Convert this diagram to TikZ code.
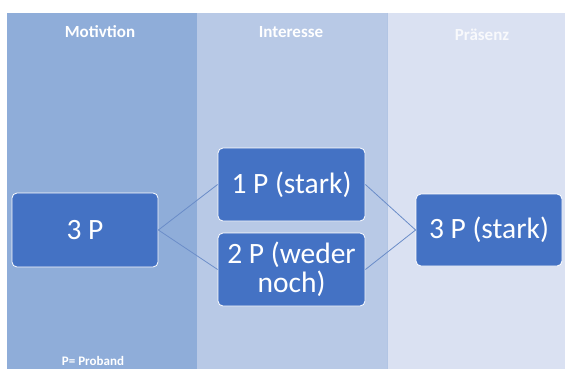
\documentclass[tikz,border=0pt]{standalone}
\usepackage{fontspec}
\setmainfont{Carlito}
\begin{document}
\definecolor{colA}{HTML}{8FADD9}
\definecolor{colB}{HTML}{B8C9E6}
\definecolor{colC}{HTML}{DAE1F2}
\definecolor{boxfill}{HTML}{4472C4}
\definecolor{linkcol}{HTML}{6A8CC8}
\begin{tikzpicture}[x=1pt,y=-1pt,
  stage/.style={fill=#1,draw=none},
  header/.style={text=white,font=\bfseries\fontsize{17}{19}\selectfont,anchor=center,inner sep=0pt},
  item/.style={draw=white,line width=0.8pt,fill=boxfill,rounded corners=5pt,
    text=white,font=\fontsize{29.5}{32}\selectfont,align=center,inner sep=0pt},
  link/.style={draw=linkcol,line width=0.8pt}]
\useasboundingbox (0,0) rectangle (565,369);
\fill[white] (0,0) rectangle (565,369);
% three stage columns
\fill[stage=colA] (7,13) rectangle (197,369);
\fill[stage=colB] (197,13) rectangle (387,369);
\fill[stage=colC] (387,13) rectangle (565,369);
\draw[colB!85!colA,line width=0.6pt] (387,13) -- (387,369);
% column headings
\node[header] (hA) at (100,32) {Motivtion};
\node[header] (hB) at (291,32) {Interesse};
\node[header,text=white!80!colC] (hC) at (482,35) {Präsenz};
\node[header,font=\bfseries\fontsize{13}{15}\selectfont] (note) at (93,361) {P= Proband};
% boxes
\node[item,minimum width=146pt,minimum height=74pt] (m) at (85,230) {3 P};
\node[item,minimum width=147pt,minimum height=73pt] (i1) at (291.5,184.5) {1 P (stark)};
\node[item,minimum width=147pt,minimum height=73pt] (i2) at (291.5,269.5) {2 P (weder\\[-3pt]noch)};
\node[item,minimum width=146pt,minimum height=72pt] (p) at (489,230) {3 P (stark)};
% connectors
\draw[link] (m.east) -- (i1.west);
\draw[link] (m.east) -- (i2.west);
\draw[link] (i1.east) -- (p.west);
\draw[link] (i2.east) -- (p.west);
\end{tikzpicture}
\end{document}
